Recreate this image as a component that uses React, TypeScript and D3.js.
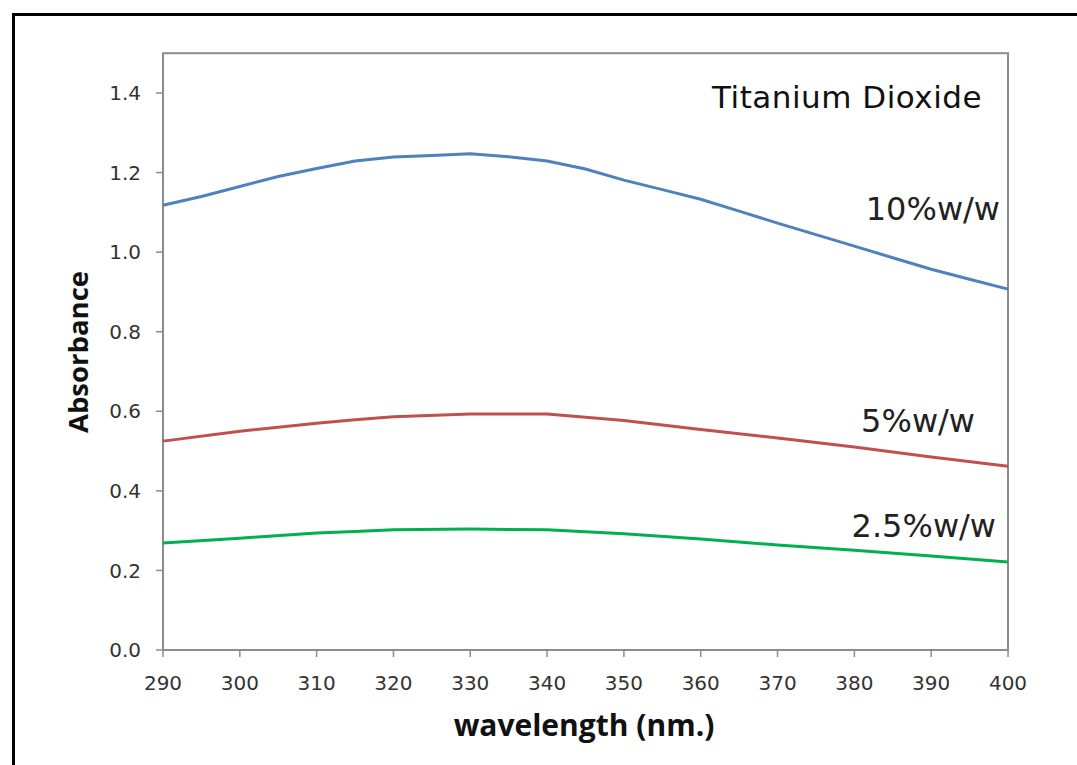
import React from "react";
import * as d3 from "d3";

const wavelengthsBlue = [290, 295, 300, 305, 310, 315, 320, 325, 330, 335, 340, 345, 350, 355, 360, 365, 370, 375, 380, 385, 390, 395, 400];
const blue10 = [1.118, 1.14, 1.165, 1.19, 1.21, 1.229, 1.239, 1.243, 1.247, 1.24, 1.229, 1.209, 1.181, 1.157, 1.133, 1.103, 1.073, 1.044, 1.015, 0.986, 0.957, 0.932, 0.907];
const wavelengths = [290, 300, 310, 315, 320, 330, 340, 350, 360, 370, 380, 390, 400];
const red5 = [0.525, 0.55, 0.57, 0.579, 0.586, 0.593, 0.593, 0.577, 0.554, 0.533, 0.51, 0.485, 0.462];
const green25 = [0.269, 0.281, 0.294, 0.298, 0.302, 0.304, 0.302, 0.292, 0.279, 0.264, 0.251, 0.236, 0.221];
const xTicks = [290, 300, 310, 320, 330, 340, 350, 360, 370, 380, 390, 400];
const yTicks = [0, 0.2, 0.4, 0.6, 0.8, 1.0, 1.2, 1.4];
const seriesLabels = ["10%w/w", "5%w/w", "2.5%w/w"];

export default function App() {
  const W = 1077, H = 765;
  const left = 163, right = 1008, top = 53.2, bottom = 650;
  const x = d3.scaleLinear().domain([290, 400]).range([left, right]);
  const y = d3.scaleLinear().domain([0, 1.5]).range([bottom, top]);
  const line = d3.line<[number, number]>().x(d => x(d[0])).y(d => y(d[1])).curve(d3.curveLinear);
  const blueData = wavelengthsBlue.map((w, i) => [w, blue10[i]] as [number, number]);
  const redData = wavelengths.map((w, i) => [w, red5[i]] as [number, number]);
  const greenData = wavelengths.map((w, i) => [w, green25[i]] as [number, number]);
  const axisColor = "#8c8c8c";
  const tickFont = "'DejaVu Sans', Verdana, sans-serif";
  const labelFont = "'Open Sans', 'DejaVu Sans', sans-serif";
  return (
    <svg width={W} height={H} style={{ position: "absolute", left: 0, top: 0, background: "#fff" }}>
      <rect x={0} y={0} width={W} height={H} fill="#fff" />
      {/* outer black border */}
      <path d={`M13.5,${H} L13.5,14.5 L${W},14.5`} fill="none" stroke="#000" strokeWidth={3} />
      {/* plot area frame */}
      <rect x={left} y={top} width={right - left} height={bottom - top} fill="none" stroke={axisColor} strokeWidth={2} />
      {yTicks.map(t => (
        <g key={"y" + t}>
          <line x1={left - 7} x2={left} y1={y(t)} y2={y(t)} stroke={axisColor} strokeWidth={1.5} />
          <text x={141} y={y(t)} dy="0.36em" textAnchor="end" fontFamily={tickFont} fontSize={20} fill="#333">
            {t.toFixed(1)}
          </text>
        </g>
      ))}
      {xTicks.map(t => (
        <g key={"x" + t}>
          <line x1={x(t)} x2={x(t)} y1={bottom} y2={bottom + 7} stroke={axisColor} strokeWidth={1.5} />
          <text x={x(t)} y={bottom + 40} textAnchor="middle" fontFamily={tickFont} fontSize={20} fill="#333">
            {t}
          </text>
        </g>
      ))}
      <path d={line(blueData) || ""} fill="none" stroke="#4F81BD" strokeWidth={3} />
      <path d={line(redData) || ""} fill="none" stroke="#C0504D" strokeWidth={3} />
      <path d={line(greenData) || ""} fill="none" stroke="#00B050" strokeWidth={3} />
      <text x={982} y={108} textAnchor="end" fontFamily={tickFont} fontSize={31} letterSpacing={0.5} fill="#111">Titanium Dioxide</text>
      <text x={1000} y={220} textAnchor="end" fontFamily={tickFont} fontSize={32} fill="#222">{seriesLabels[0]}</text>
      <text x={975} y={432} textAnchor="end" fontFamily={tickFont} fontSize={32} fill="#222">{seriesLabels[1]}</text>
      <text x={996} y={537} textAnchor="end" fontFamily={tickFont} fontSize={32} fill="#222">{seriesLabels[2]}</text>
      <text x={584} y={736} textAnchor="middle" fontFamily={labelFont} fontWeight="bold" fontSize={30} fill="#111">wavelength (nm.)</text>
      <text transform={`translate(88,352) rotate(-90)`} textAnchor="middle" fontFamily={labelFont} fontWeight="bold" fontSize={27.5} fill="#111">Absorbance</text>
    </svg>
  );
}
